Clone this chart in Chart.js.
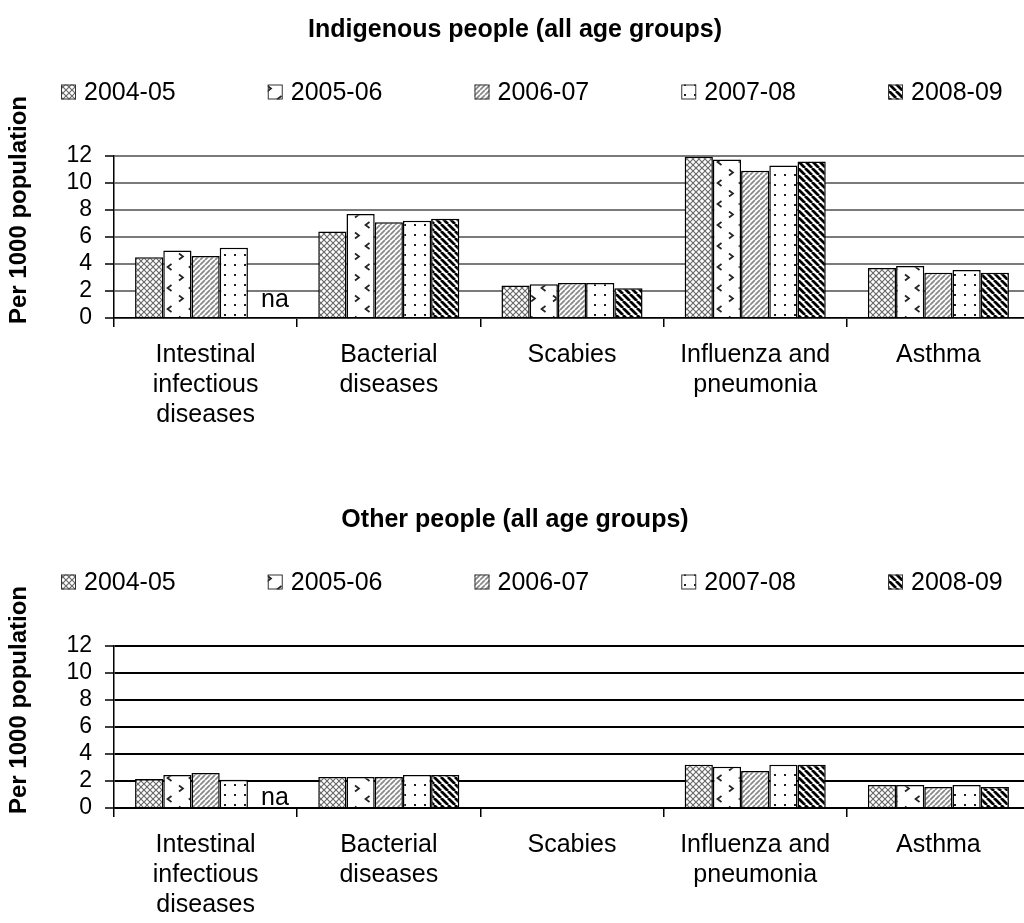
<!DOCTYPE html>
<html>
<head>
<meta charset="utf-8">
<script src="https://cdn.jsdelivr.net/npm/chart.js@4.4.0/dist/chart.umd.min.js"></script>
<style>
  body { margin: 0; background: #fff; overflow: hidden; width: 1024px; height: 923px; }
  canvas { display: block; }
</style>
</head>
<body>
<canvas id="chartIndigenous" width="1030" height="490"></canvas>
<canvas id="chartOther" width="1030" height="433"></canvas>
<script>
// categories and series
const categories = [
  ['Intestinal', 'infectious', 'diseases'],
  ['Bacterial', 'diseases'],
  ['Scabies'],
  ['Influenza and', 'pneumonia'],
  ['Asthma']
];
const years = ['2004-05', '2005-06', '2006-07', '2007-08', '2008-09'];
const yTickValues = [0, 2, 4, 6, 8, 10, 12];

// Indigenous people, per 1000 population
const indigenous0405 = [4.5, 6.4, 2.4, 11.95, 3.7];
const indigenous0506 = [5.0, 7.7, 2.5, 11.75, 3.85];
const indigenous0607 = [4.6, 7.1, 2.6, 10.9, 3.35];
const indigenous0708 = [5.2, 7.2, 2.6, 11.3, 3.55];
const indigenous0809 = [null, 7.35, 2.2, 11.6, 3.35];

// Other people, per 1000 population
const other0405 = [2.15, 2.3, null, 3.2, 1.7];
const other0506 = [2.45, 2.3, null, 3.05, 1.7];
const other0607 = [2.6, 2.3, null, 2.75, 1.55];
const other0708 = [2.1, 2.45, null, 3.2, 1.7];
const other0809 = [null, 2.45, null, 3.2, 1.55];

// cells shown as "na" (series index, category index)
const naIndigenous = [[4, 0]];
const naOther = [[4, 0]];

const FONT = '"Liberation Sans", Arial, sans-serif';
Chart.defaults.font.family = FONT;
Chart.defaults.color = '#000';

function makePattern(w, h, draw) {
  const c = document.createElement('canvas');
  c.width = w; c.height = h;
  const g = c.getContext('2d');
  g.fillStyle = '#fff';
  g.fillRect(0, 0, w, h);
  draw(g, w, h);
  return g.createPattern(c, 'repeat');
}

function diagonal(g, s, dir) {
  g.beginPath();
  for (let k = -1; k <= 1; k++) {
    if (dir > 0) { g.moveTo(k * s, s); g.lineTo(k * s + s, 0); }
    else { g.moveTo(k * s, 0); g.lineTo(k * s + s, s); }
  }
  g.stroke();
}

const fills = [
  makePattern(6, 6, (g) => {
    g.strokeStyle = '#6a6a6a'; g.lineWidth = 1.2;
    diagonal(g, 6, 1); diagonal(g, 6, -1);
  }),
  makePattern(22, 21, (g) => {
    g.strokeStyle = '#222'; g.lineWidth = 1.7;
    g.beginPath(); g.moveTo(3, 1.5); g.lineTo(7, 4.5); g.lineTo(3, 7.5); g.stroke();
    g.beginPath(); g.moveTo(17.5, 12); g.lineTo(13.5, 15); g.lineTo(17.5, 18); g.stroke();
  }),
  makePattern(5, 5, (g) => {
    g.strokeStyle = '#8a8a8a'; g.lineWidth = 1.8;
    diagonal(g, 5, 1);
  }),
  makePattern(10, 10, (g) => {
    g.fillStyle = '#222';
    g.fillRect(4, 4, 2, 2);
  }),
  makePattern(7, 7, (g) => {
    g.strokeStyle = '#000'; g.lineWidth = 2.8;
    diagonal(g, 7, -1);
  })
];

// legend drawn on the chart canvas, spread across the width
const seriesLegend = {
  id: 'seriesLegend',
  afterDraw(chart, args, opts) {
    const ctx = chart.ctx;
    ctx.save();
    ctx.font = opts.fontSize + 'px ' + FONT;
    ctx.textBaseline = 'middle';
    chart.data.datasets.forEach((ds, i) => {
      const x = opts.x + i * opts.step;
      ctx.fillStyle = ds.backgroundColor;
      ctx.fillRect(x, opts.y - 7.5, 15, 15);
      ctx.strokeStyle = '#333';
      ctx.lineWidth = 1;
      ctx.strokeRect(x + 0.5, opts.y - 7, 14, 14);
      ctx.fillStyle = '#000';
      ctx.fillText(ds.label, x + 23, opts.y + 1);
    });
    ctx.restore();
  }
};

// rotated value-axis title, sitting a little above the plot's middle
const axisTitle = {
  id: 'axisTitle',
  afterDraw(chart, args, opts) {
    const ctx = chart.ctx;
    const area = chart.chartArea;
    ctx.save();
    ctx.translate(opts.x, (area.top + area.bottom) / 2 + opts.dy);
    ctx.rotate(-Math.PI / 2);
    ctx.font = 'bold ' + opts.fontSize + 'px ' + FONT;
    ctx.fillStyle = '#000';
    ctx.textAlign = 'center';
    ctx.textBaseline = 'middle';
    ctx.fillText(opts.text, 0, 0);
    ctx.restore();
  }
};

// "na" text for missing values
const naLabel = {
  id: 'naLabel',
  afterDatasetsDraw(chart, args, opts) {
    const ctx = chart.ctx;
    const yZero = chart.scales.y.getPixelForValue(0);
    ctx.save();
    ctx.font = opts.fontSize + 'px ' + FONT;
    ctx.fillStyle = '#000';
    ctx.textAlign = 'center';
    ctx.textBaseline = 'alphabetic';
    (opts.cells || []).forEach(([s, c]) => {
      const bar = chart.getDatasetMeta(s).data[c];
      ctx.fillText('na', bar.x + opts.dx, yZero - opts.dy);
    });
    ctx.restore();
  }
};

function drawChart(id, title, series, cfg) {
  const ctx = document.getElementById(id).getContext('2d');
  return new Chart(ctx, {
    type: 'bar',
    data: {
      labels: categories,
      datasets: series.map((values, i) => ({
        label: years[i],
        data: values,
        backgroundColor: fills[i],
        borderColor: '#000',
        borderWidth: 1.5,
        categoryPercentage: 0.77,
        barPercentage: 1.0
      }))
    },
    options: {
      responsive: false,
      animation: false,
      devicePixelRatio: 1,
      layout: { padding: { left: 0, right: 0, top: 0, bottom: cfg.bottomPad } },
      plugins: {
        legend: { display: false },
        tooltip: { enabled: false },
        title: {
          display: true,
          text: title,
          color: '#000',
          font: { size: 25, weight: 'bold' },
          padding: { top: 15, bottom: 111 }
        },
        seriesLegend: { x: 61, step: 206.75, y: 92, fontSize: 25 },
        axisTitle: { text: 'Per 1000 population', x: 19, dy: -27, fontSize: 24 },
        naLabel: { cells: cfg.na, dx: 13, dy: cfg.naDy, fontSize: 25 }
      },
      scales: {
        x: {
          grid: {
            display: true, offset: true, drawOnChartArea: false,
            tickLength: 9, color: '#000', lineWidth: 1.5
          },
          border: { color: '#000', width: 1.5 },
          ticks: {
            color: '#000', font: { size: 25, lineHeight: 1.2 },
            padding: 13, maxRotation: 0, autoSkip: false
          },
          afterFit: (s) => { s.height = 112; }
        },
        y: {
          min: 0, max: 12,
          afterBuildTicks: (s) => { s.ticks = yTickValues.map(v => ({ value: v })); },
          afterFit: (s) => { s.width = 114; },
          grid: {
            color: cfg.gridColor, lineWidth: 2,
            tickLength: 9, tickColor: '#000', tickWidth: 1.5
          },
          border: { color: '#000', width: 1.5 },
          ticks: { color: '#000', font: { size: 23 }, padding: 13, autoSkip: false }
        }
      }
    },
    plugins: [seriesLegend, axisTitle, naLabel]
  });
}

drawChart('chartIndigenous', 'Indigenous people (all age groups)',
  [indigenous0405, indigenous0506, indigenous0607, indigenous0708, indigenous0809],
  { bottomPad: 60, gridColor: '#7a7a7a', na: naIndigenous, naDy: 11 });

drawChart('chartOther', 'Other people (all age groups)',
  [other0405, other0506, other0607, other0708, other0809],
  { bottomPad: 3, gridColor: '#000', na: naOther, naDy: 3 });
</script>
</body>
</html>
